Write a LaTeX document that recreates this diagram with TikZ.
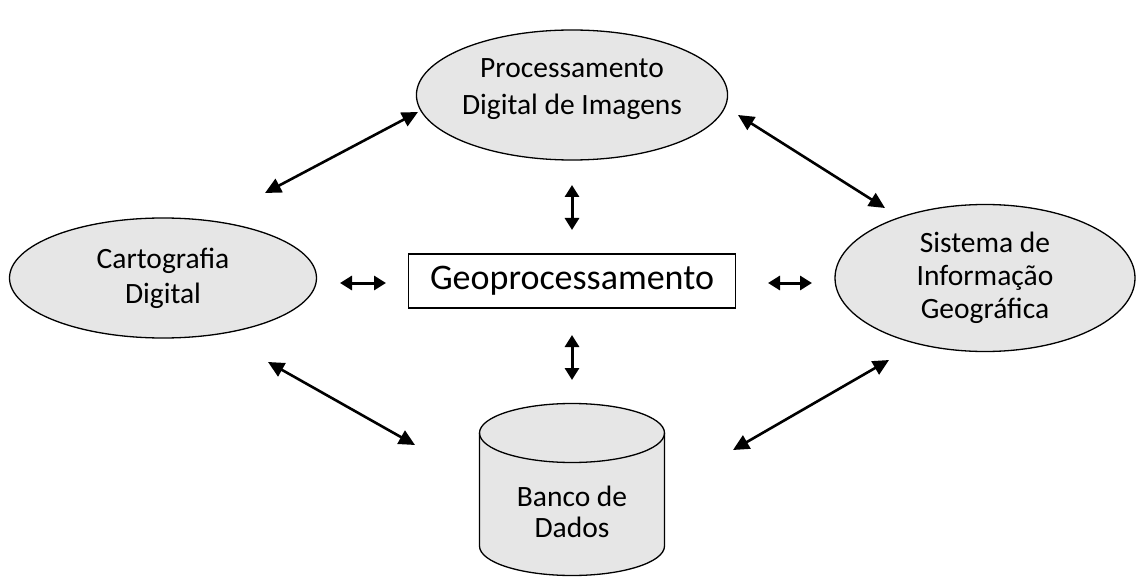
\documentclass[tikz,border=0pt]{standalone}
\usepackage{fontspec}
\setmainfont{Carlito}
\usetikzlibrary{arrows.meta,shapes.geometric}

\definecolor{areafill}{HTML}{E6E6E6}
\def\labelsize#1{\fontsize{29.5}{#1}\selectfont}
\def\linkwd{2.6pt}

\begin{document}
\begin{tikzpicture}[x=1pt,y=-1pt]
            \tikzstyle{area}=[ellipse,draw=black,line width=1.3pt,fill=areafill,inner sep=0pt,align=center]
            \tikzstyle{store}=[draw=black,line width=1.3pt,fill=areafill]
            \tikzstyle{link}=[{Triangle[length=16pt,width=15pt]}-{Triangle[length=16pt,width=15pt]},line width=\linkwd]
            \tikzstyle{short link}=[{Triangle[length=12pt,width=14pt]}-{Triangle[length=12pt,width=14pt]},line width=3pt]

            \useasboundingbox (0,0) rectangle (1137,577);

            % Draw the central box
            \node[draw=black,line width=1.3pt,minimum width=327pt,minimum height=54pt,font=\fontsize{36}{40}\selectfont] (geo) at (572,281) {Geoprocessamento};

            % Draw the surrounding areas
            \node[area,minimum width=293pt,minimum height=130pt,font=\labelsize{37},text depth=16pt] (pdi) at (572,95) {Processamento\\Digital de Imagens};
            \node[area,minimum width=307pt,minimum height=120pt,font=\labelsize{35}] (carto) at (163,278) {Cartografia\\Digital};
            \node[area,minimum width=300pt,minimum height=147pt,font=\labelsize{33}] (sig) at (985,278) {Sistema de\\Informação\\Geográfica};

            % Draw the database (cylinder)
            \path[store] (479.5,433) -- (479.5,546) arc[start angle=180,end angle=0,x radius=92.5,y radius=29.5]
                -- (664.5,433) arc[start angle=0,end angle=-180,x radius=92.5,y radius=29.5] -- cycle;
            \draw[store,fill=none] (479.5,433) arc[start angle=180,end angle=0,x radius=92.5,y radius=29.5];
            \node[align=center,font=\labelsize{31}] (bd) at (572,512) {Banco de\\Dados};

            % Ends of the arrows
            \foreach \name / \x / \y in {tl-a/265/193, tl-b/418/112, tr-a/738/115, tr-b/885/208,
                                         bl-a/268/362, bl-b/415/445, br-a/733/450, br-b/889/360,
                                         l-a/340/283, l-b/386/283, r-a/768/283, r-b/812/283,
                                         u-a/572/185, u-b/572/230, d-a/572/335, d-b/572/380}
                \coordinate (\name) at (\x,\y);

            % Long arrows between the areas
            \foreach \source in {tl,tr,bl,br}
                \path[link] (\source-a) edge (\source-b);

            % Short arrows round the central box
            \foreach \source in {l,r,u,d}
                \path[short link] (\source-a) edge (\source-b);
        \end{tikzpicture}
\end{document}
